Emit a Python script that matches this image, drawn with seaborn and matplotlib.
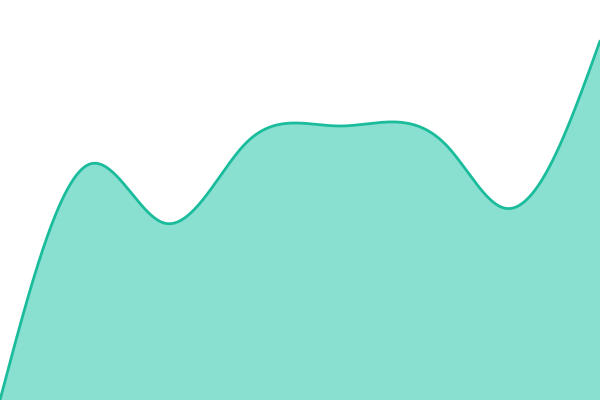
import numpy as np
import matplotlib
matplotlib.use("Agg")
import matplotlib.pyplot as plt
import seaborn as sns

# --- Points (x position, value) ---
X_POINTS = [0, 40, 90, 164, 205, 246, 294, 340, 388, 448, 504, 546, 600]
VALUES = [0, 142, 236, 177, 203, 257, 277, 274, 278, 253, 192, 227, 359]

LINE_COLOR = "#1abc9c"
FILL_COLOR = "#89e0d0"


def natural_spline(x, y, xs):
    """Natural cubic spline through the points, used only to draw the smooth line."""
    x = np.asarray(x, float)
    y = np.asarray(y, float)
    n = len(x)
    h = np.diff(x)
    A = np.zeros((n, n))
    b = np.zeros(n)
    A[0, 0] = A[-1, -1] = 1
    for i in range(1, n - 1):
        A[i, i - 1] = h[i - 1]
        A[i, i] = 2 * (h[i - 1] + h[i])
        A[i, i + 1] = h[i]
        b[i] = 6 * ((y[i + 1] - y[i]) / h[i] - (y[i] - y[i - 1]) / h[i - 1])
    M = np.linalg.solve(A, b)
    idx = np.clip(np.searchsorted(x, xs) - 1, 0, n - 2)
    x0, x1 = x[idx], x[idx + 1]
    hh = h[idx]
    return (M[idx] * (x1 - xs) ** 3 / (6 * hh) + M[idx + 1] * (xs - x0) ** 3 / (6 * hh)
            + (y[idx] / hh - M[idx] * hh / 6) * (x1 - xs)
            + (y[idx + 1] / hh - M[idx + 1] * hh / 6) * (xs - x0))


sns.set_style("white")
fig = plt.figure(figsize=(6, 4), dpi=100)
ax = fig.add_axes([0, 0, 1, 1])

xs = np.linspace(X_POINTS[0], X_POINTS[-1], 1200)
ys = natural_spline(X_POINTS, VALUES, xs)

ax.fill_between(xs, ys, 0, color=FILL_COLOR, linewidth=0)
sns.lineplot(x=xs, y=ys, ax=ax, color=LINE_COLOR, linewidth=2.0)

ax.set_xlim(0, 600)
ax.set_ylim(0, 400)
ax.axis("off")

fig.savefig("out.png", dpi=100)
